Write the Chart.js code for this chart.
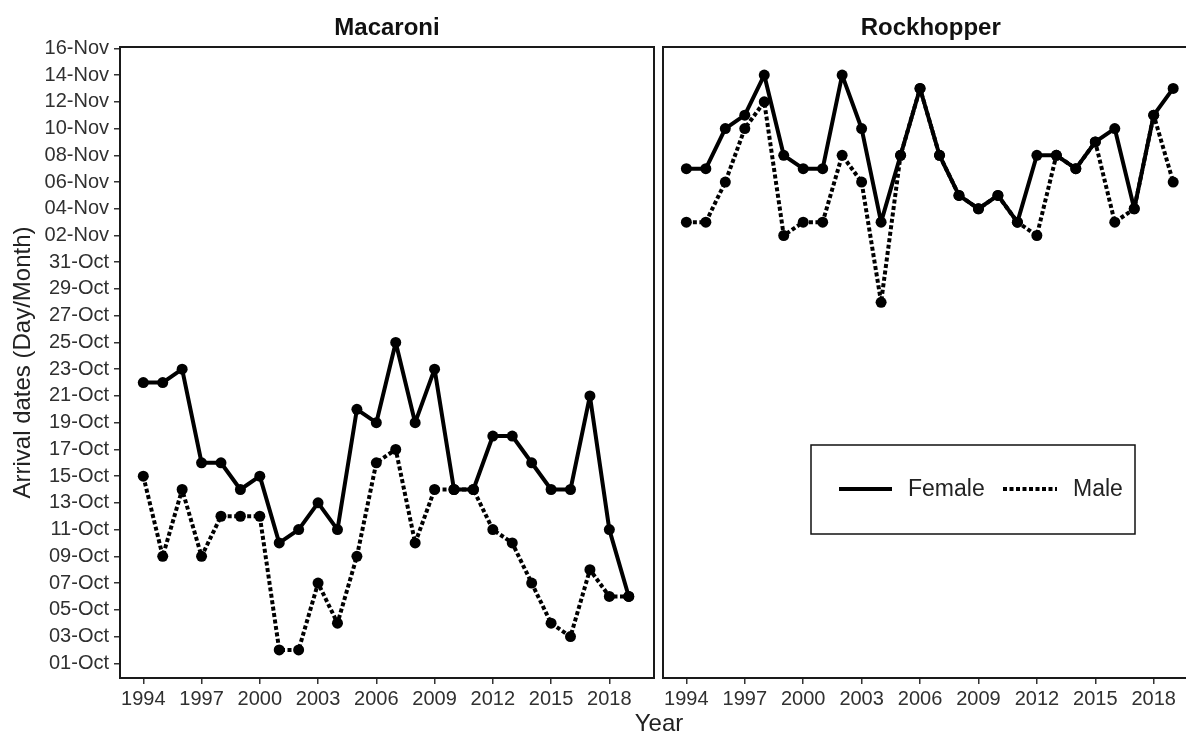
<!DOCTYPE html>
<html>
<head>
<meta charset="utf-8">
<title>Penguin arrival dates</title>
<script src="https://cdn.jsdelivr.net/npm/chart.js@4.4.1/dist/chart.umd.min.js"></script>
<style>
    html, body { margin: 0; padding: 0; background: #fff; overflow: hidden; }
    #wrap { position: relative; width: 1186px; height: 733px; overflow: hidden; }
    #wrap canvas { position: absolute; left: 0; top: 0; }
</style>
</head>
<body>
<div id="wrap">
    <canvas id="macaroniChart" width="1186" height="733"></canvas>
    <canvas id="rockhopperChart" width="1204" height="733"></canvas>
</div>
<script>
// Arrival dates as day of season: 1 = 01-Oct, 31 = 31-Oct, 32 = 01-Nov
const years = [1994, 1995, 1996, 1997, 1998, 1999, 2000, 2001, 2002, 2003, 2004, 2005, 2006,
               2007, 2008, 2009, 2010, 2011, 2012, 2013, 2014, 2015, 2016, 2017, 2018, 2019];

const macaroniFemale = [22, 22, 23, 16, 16, 14, 15, 10, 11, 13, 11, 20, 19,
                        25, 19, 23, 14, 14, 18, 18, 16, 14, 14, 21, 11, 6];
const macaroniMale = [15, 9, 14, 9, 12, 12, 12, 2, 2, 7, 4, 9, 16,
                      17, 10, 14, 14, 14, 11, 10, 7, 4, 3, 8, 6, 6];

const rockhopperFemale = [38, 38, 41, 42, 45, 39, 38, 38, 45, 41, 34, 39, 44,
                          39, 36, 35, 36, 34, 39, 39, 38, 40, 41, 35, 42, 44];
const rockhopperMale = [34, 34, 37, 41, 43, 33, 34, 34, 39, 37, 28, 39, 44,
                        39, 36, 35, 36, 34, 33, 39, 38, 40, 34, 35, 42, 37];

const yearTicks = [1994, 1997, 2000, 2003, 2006, 2009, 2012, 2015, 2018];
const dayTicks = [1, 3, 5, 7, 9, 11, 13, 15, 17, 19, 21, 23, 25, 27, 29, 31,
                  33, 35, 37, 39, 41, 43, 45, 47];
const dayTickLabels = ['01-Oct', '03-Oct', '05-Oct', '07-Oct', '09-Oct', '11-Oct', '13-Oct', '15-Oct',
                       '17-Oct', '19-Oct', '21-Oct', '23-Oct', '25-Oct', '27-Oct', '29-Oct', '31-Oct',
                       '02-Nov', '04-Nov', '06-Nov', '08-Nov', '10-Nov', '12-Nov', '14-Nov', '16-Nov'];

const FONT = '"Liberation Sans", Arial, sans-serif';
Chart.defaults.font.family = FONT;
Chart.defaults.color = '#303030';

// Panel box, strip title, shared x title and the inset legend
const panelDecor = {
    id: 'panelDecor',
    afterDraw(chart, args, opts) {
        const ctx = chart.ctx;
        const a = chart.chartArea;
        ctx.save();
        ctx.strokeStyle = '#1a1a1a';
        ctx.lineWidth = 2;
        ctx.strokeRect(a.left, a.top, a.right - a.left, a.bottom - a.top);

        ctx.fillStyle = '#111';
        ctx.font = 'bold 24px ' + FONT;
        ctx.textAlign = 'center';
        ctx.textBaseline = 'alphabetic';
        ctx.fillText(opts.title, (a.left + a.right) / 2, 35);

        if (opts.xTitle) {
            ctx.font = '24px ' + FONT;
            ctx.fillStyle = '#222';
            ctx.fillText(opts.xTitle, 659, 731);
        }

        if (opts.legend) {
            const ds = chart.data.datasets;
            ctx.strokeStyle = '#111';
            ctx.lineWidth = 1.5;
            ctx.strokeRect(811, 445, 324, 89);
            const items = [
                { x0: 839, x1: 892, tx: 908, d: ds[0] },
                { x0: 1003, x1: 1057, tx: 1073, d: ds[1] }
            ];
            items.forEach(it => {
                ctx.beginPath();
                ctx.setLineDash(it.d.borderDash || []);
                ctx.lineWidth = it.d.borderWidth;
                ctx.strokeStyle = it.d.borderColor;
                ctx.moveTo(it.x0, 489);
                ctx.lineTo(it.x1, 489);
                ctx.stroke();
                ctx.setLineDash([]);
                ctx.font = '23px ' + FONT;
                ctx.fillStyle = '#222';
                ctx.textAlign = 'left';
                ctx.textBaseline = 'middle';
                ctx.fillText(it.d.label, it.tx, 490);
            });
        }
        ctx.restore();
    }
};

function series(label, values, dashed) {
    return {
        label: label,
        data: years.map((yr, i) => ({ x: yr, y: values[i] })),
        borderColor: '#000',
        backgroundColor: '#000',
        borderWidth: 4,
        borderDash: dashed ? [4, 2.5] : [],
        borderCapStyle: 'butt',
        borderJoinStyle: 'round',
        pointRadius: 5.5,
        pointBorderWidth: 0,
        pointBackgroundColor: '#000',
        tension: 0,
        clip: false
    };
}

function makeChart(canvasId, female, male, deco, padding, showY) {
    const ctx = document.getElementById(canvasId).getContext('2d');
    return new Chart(ctx, {
        type: 'line',
        data: {
            datasets: [series('Female', female, false), series('Male', male, true)]
        },
        options: {
            responsive: false,
            animation: false,
            devicePixelRatio: 1,
            layout: { padding: padding },
            plugins: {
                legend: { display: false },
                tooltip: { enabled: false },
                panelDecor: deco
            },
            scales: {
                x: {
                    type: 'linear',
                    min: 1992.8,
                    max: 2020.3,
                    afterBuildTicks: scale => { scale.ticks = yearTicks.map(v => ({ value: v })); },
                    afterFit: scale => { scale.height = 55; },
                    border: { display: false },
                    grid: { drawOnChartArea: false, drawTicks: true, tickLength: 6, color: '#333', lineWidth: 1.5 },
                    ticks: {
                        font: { size: 20 },
                        padding: 3,
                        maxRotation: 0,
                        autoSkip: false,
                        callback: v => String(v)
                    }
                },
                y: {
                    display: showY,
                    min: -0.1,
                    max: 47.1,
                    afterBuildTicks: scale => { scale.ticks = dayTicks.map(v => ({ value: v })); },
                    afterFit: scale => { scale.width = showY ? 120 : 0; },
                    border: { display: false },
                    grid: { drawOnChartArea: false, drawTicks: true, tickLength: 6, color: '#333', lineWidth: 1.5 },
                    title: {
                        display: true,
                        text: 'Arrival dates (Day/Month)',
                        font: { size: 24 },
                        color: '#222',
                        padding: { top: 9, bottom: 0 }
                    },
                    ticks: {
                        font: { size: 20 },
                        padding: 5,
                        autoSkip: false,
                        callback: v => dayTickLabels[dayTicks.indexOf(v)]
                    }
                }
            }
        },
        plugins: [panelDecor]
    });
}

makeChart('macaroniChart', macaroniFemale, macaroniMale,
    { title: 'Macaroni', xTitle: 'Year', legend: false },
    { top: 47, right: 532, bottom: 0, left: 0 }, true);

makeChart('rockhopperChart', rockhopperFemale, rockhopperMale,
    { title: 'Rockhopper', xTitle: null, legend: true },
    { top: 47, right: 3, bottom: 0, left: 663 }, false);
</script>
</body>
</html>
